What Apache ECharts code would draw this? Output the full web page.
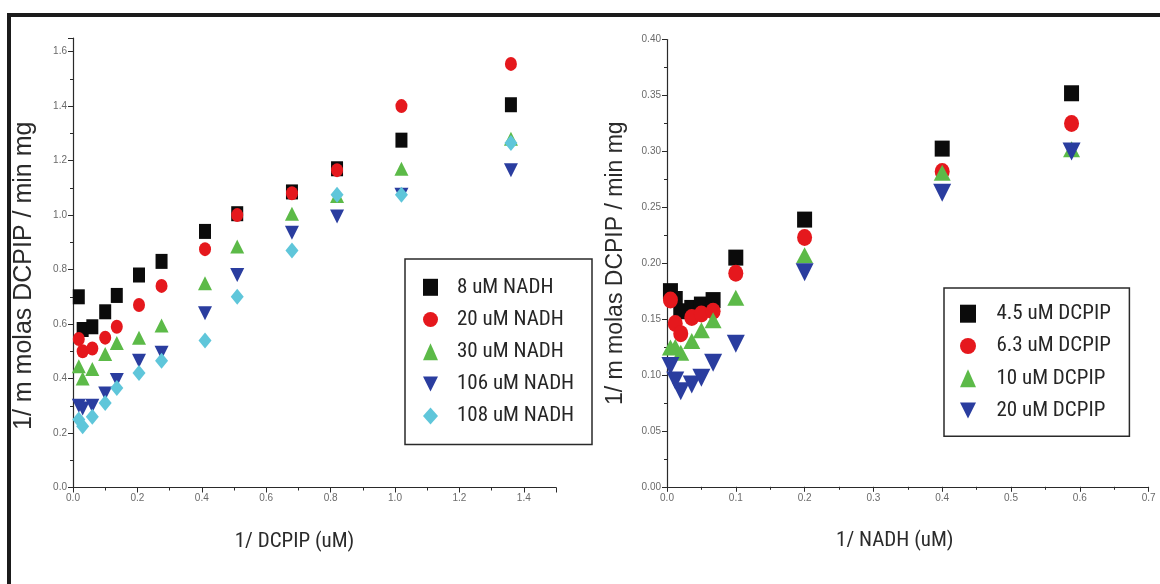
<!DOCTYPE html>
<html>
<head>
<meta charset="utf-8">
<script src="https://cdn.jsdelivr.net/npm/echarts@6/dist/echarts.min.js"></script>
<style>
  html, body { margin: 0; padding: 0; background: #fff; }
  #wrap { position: relative; width: 1160px; height: 584px; overflow: hidden; background: #fff; }
  #chart { position: absolute; left: 0; top: 0; width: 1160px; height: 584px; }
  #frame { position: absolute; left: 7px; top: 13px; width: 1170px; height: 590px;
           border-top: 4px solid #1b1b1b; border-left: 4px solid #1b1b1b; pointer-events: none; }
</style>
</head>
<body>
<div id="wrap">
  <div id="chart"></div>
  <div id="frame"></div>
</div>
<script>
// ---- Left panel: rate vs 1/[DCPIP] at several NADH levels ----
const dcpipInv = [0.018, 0.03, 0.06, 0.10, 0.136, 0.205, 0.275, 0.41, 0.51, 0.68, 0.82, 1.02, 1.36];
const nadh8   = [0.70, 0.58, 0.59, 0.645, 0.705, 0.78, 0.83, 0.94, 1.005, 1.085, 1.17, 1.275, 1.405];
const nadh20  = [0.545, 0.50, 0.51, 0.55, 0.59, 0.67, 0.74, 0.875, 1.0, 1.08, 1.165, 1.40, 1.555];
const nadh30  = [0.445, 0.40, 0.435, 0.49, 0.53, 0.55, 0.595, 0.75, 0.885, 1.005, 1.07, 1.17, 1.28];
const nadh106 = [0.30, 0.29, 0.30, 0.345, 0.395, 0.465, 0.495, 0.64, 0.78, 0.935, 0.995, 1.075, 1.165];
const nadh108 = [0.25, 0.225, 0.26, 0.31, 0.365, 0.42, 0.465, 0.54, 0.70, 0.87, 1.075, 1.075, 1.265];
const leftNames = ['8 uM NADH', '20 uM NADH', '30 uM NADH', '106 uM NADH', '108 uM NADH'];

// ---- Right panel: rate vs 1/[NADH] at several DCPIP levels ----
const nadhInv  = [0.005, 0.012, 0.02, 0.036, 0.05, 0.067, 0.1, 0.2, 0.4, 0.588];
const dcpip45  = [0.175, 0.168, 0.157, 0.160, 0.163, 0.167, 0.205, 0.239, 0.3025, 0.352];
const dcpip63  = [0.167, 0.146, 0.137, 0.1515, 0.1545, 0.157, 0.191, 0.223, 0.282, 0.325];
const dcpip10  = [0.1245, 0.125, 0.12, 0.1305, 0.14, 0.149, 0.169, 0.207, 0.281, 0.302];
const dcpip20  = [0.108, 0.095, 0.0855, 0.0915, 0.0975, 0.111, 0.128, 0.192, 0.263, 0.300];
const rightNames = ['4.5 uM DCPIP', '6.3 uM DCPIP', '10 uM DCPIP', '20 uM DCPIP'];

const yTitle = '1/ m molas DCPIP / min mg';
const xTitleLeft = '1/ DCPIP (uM)';
const xTitleRight = '1/ NADH (uM)';

const COLORS = { black: '#0b0b0b', red: '#e5181d', green: '#5cba48', blue: '#2a3d9f', cyan: '#5fc6da' };
const DOWN = 'path://M0,0L12,0L6,12Z';
const REG = "'Liberation Sans', Arial, sans-serif";

// Pick a narrow sans face for the horizontal labels; fall back to a smaller regular face.
const NARROW = (function () {
  const ctx = document.createElement('canvas').getContext('2d');
  const sample = '108 uM NADH 4.5 uM DCPIP';
  const measure = f => { ctx.font = '10px serif'; ctx.font = f; return ctx.measureText(sample).width; };
  const ref = measure("22px 'Liberation Sans'");
  const mono = measure('22px monospace');
  const options = [
    ['', "'Liberation Sans Narrow'"],
    ['', "'Arial Narrow'"],
    ['', "'Roboto Condensed'"],
    ['', "'Open Sans Condensed'"],
    ['', "'Noto Sans Condensed'"],
    ['condensed', "'Open Sans'"],
    ['condensed', "'Noto Sans'"],
    ['condensed', "'Roboto'"],
    ['condensed', "'Inter'"],
    ['', "'DejaVu Sans Condensed'"],
    ['condensed', "'DejaVu Sans'"]
  ];
  for (const [wt, fam] of options) {
    const w = measure((wt ? wt + ' ' : '') + '22px ' + fam + ', monospace');
    if (Math.abs(w - mono) > 0.5 && w < ref * 0.92 && w > ref * 0.6) {
      return { weight: wt || 'normal', family: fam + ', sans-serif', ratio: w / ref };
    }
  }
  return { weight: 'normal', family: REG, ratio: 1 };
})();
function narrowSize(px) {
  return Math.max(17, Math.min(px + 2, px * 0.82 / NARROW.ratio));
}

function pts(xs, ys) { return xs.map((x, i) => [x, ys[i]]); }

function axisCommon() {
  return {
    axisLine: { show: true, onZero: false, lineStyle: { color: '#2a2a2a', width: 1.2 } },
    axisTick: { show: true, inside: false, length: 5, lineStyle: { color: '#2a2a2a', width: 1 } },
    minorTick: { show: true, splitNumber: 2, length: 3, lineStyle: { color: '#2a2a2a', width: 1 } },
    splitLine: { show: false },
    axisLabel: { color: '#6a6a6a', fontSize: 10, fontFamily: REG, margin: 6 }
  };
}

function multipleOf(step, digits) {
  return function (v) {
    const r = v / step;
    return Math.abs(r - Math.round(r)) < 1e-6 ? v.toFixed(digits) : '';
  };
}

const leftSeriesVals = [nadh8, nadh20, nadh30, nadh106, nadh108];
const leftSymbols = ['rect', 'circle', 'triangle', DOWN, 'diamond'];
const leftSizes = [[12, 15], [12, 14], [14, 14], [14, 14], [13, 16]];
const leftColors = [COLORS.black, COLORS.red, COLORS.green, COLORS.blue, COLORS.cyan];

const rightSeriesVals = [dcpip45, dcpip63, dcpip10, dcpip20];
const rightSymbols = ['rect', 'circle', 'triangle', DOWN];
const rightSizes = [[15, 16], [15, 17], [17, 16], [18, 18]];
const rightColors = [COLORS.black, COLORS.red, COLORS.green, COLORS.blue];

const series = [];
leftNames.forEach((name, i) => {
  series.push({
    name, type: 'scatter', xAxisIndex: 0, yAxisIndex: 0,
    symbol: leftSymbols[i], symbolSize: leftSizes[i],
    itemStyle: { color: leftColors[i], opacity: 1 },
    emphasis: { disabled: true },
    data: pts(dcpipInv, leftSeriesVals[i])
  });
});
rightNames.forEach((name, i) => {
  series.push({
    name, type: 'scatter', xAxisIndex: 1, yAxisIndex: 1,
    symbol: rightSymbols[i], symbolSize: rightSizes[i],
    itemStyle: { color: rightColors[i], opacity: 1 },
    emphasis: { disabled: true },
    data: pts(nadhInv, rightSeriesVals[i])
  });
});

const nameStyle = pad => ({
  fontFamily: NARROW.family, fontWeight: NARROW.weight, fontSize: narrowSize(22),
  color: '#2b2b2b', padding: pad
});
const legendText = (pad, w, lh) => ({
  fontFamily: NARROW.family, fontWeight: NARROW.weight, fontSize: narrowSize(22),
  color: '#262626', lineHeight: lh, padding: [0, 0, 0, pad], width: w
});

const chart = echarts.init(document.getElementById('chart'), null, { renderer: 'canvas' });
chart.setOption({
  animation: false,
  backgroundColor: 'transparent',
  grid: [
    { left: 73, top: 38, width: 483, height: 449.5 },
    { left: 667, top: 39.6, width: 481.6, height: 447.2 }
  ],
  xAxis: [
    Object.assign(axisCommon(), {
      gridIndex: 0, type: 'value', min: 0, max: 1.5, interval: 0.2,
      name: xTitleLeft, nameLocation: 'middle', nameGap: 44,
      nameTextStyle: nameStyle([0, 40, 0, 0]),
      axisLabel: Object.assign(axisCommon().axisLabel, { formatter: multipleOf(0.2, 1), showMaxLabel: false })
    }),
    Object.assign(axisCommon(), {
      gridIndex: 1, type: 'value', min: 0, max: 0.7, interval: 0.1,
      name: xTitleRight, nameLocation: 'middle', nameGap: 43,
      nameTextStyle: nameStyle([0, 26, 0, 0]),
      axisLabel: Object.assign(axisCommon().axisLabel, { formatter: v => v.toFixed(1) })
    })
  ],
  yAxis: [
    Object.assign(axisCommon(), {
      gridIndex: 0, type: 'value', min: 0, max: 1.65, interval: 0.2,
      name: yTitle, nameLocation: 'middle', nameGap: 36,
      nameTextStyle: { fontFamily: REG, fontSize: 25, color: '#2b2b2b', padding: [0, 26, 0, 0] },
      axisLabel: Object.assign(axisCommon().axisLabel, { formatter: multipleOf(0.2, 1), showMaxLabel: false })
    }),
    Object.assign(axisCommon(), {
      gridIndex: 1, type: 'value', min: 0, max: 0.40, interval: 0.05,
      name: yTitle, nameLocation: 'middle', nameGap: 40,
      nameTextStyle: { fontFamily: REG, fontSize: 23, color: '#2b2b2b' },
      axisLabel: Object.assign(axisCommon().axisLabel, { formatter: v => v.toFixed(2) })
    })
  ],
  legend: [
    {
      data: leftNames, orient: 'vertical', left: 405, top: 259,
      itemWidth: 15, itemHeight: 17, itemGap: 11.2,
      padding: [17.8, 16, 17.8, 18],
      borderColor: '#2a2a2a', borderWidth: 1.5, backgroundColor: '#fff',
      textStyle: legendText(14, 119, 17),
      selectedMode: false
    },
    {
      data: rightNames, orient: 'vertical', left: 944, top: 288,
      itemWidth: 16, itemHeight: 18, itemGap: 11.3,
      padding: [15.2, 15, 15.2, 16],
      borderColor: '#2a2a2a', borderWidth: 1.5, backgroundColor: '#fff',
      textStyle: legendText(15.4, 118, 18),
      selectedMode: false
    }
  ],
  series
});
</script>
</body>
</html>
